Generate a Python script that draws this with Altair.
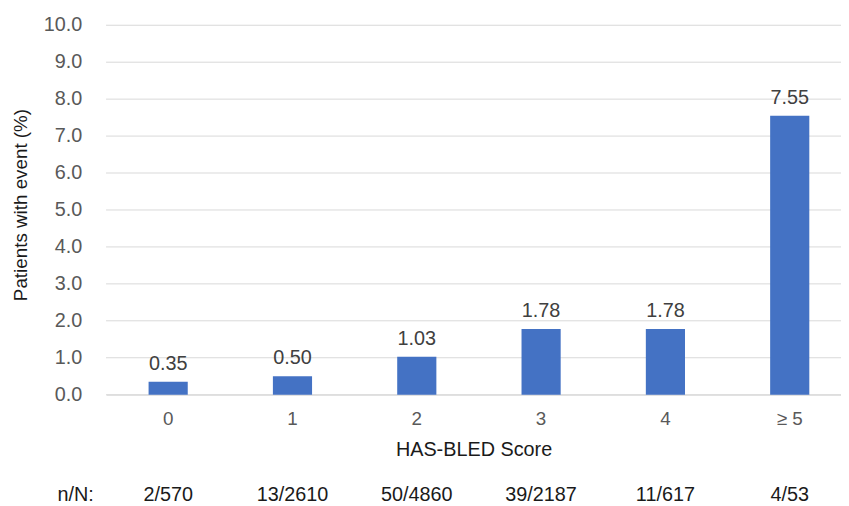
import altair as alt
import pandas as pd

categories = ["0", "1", "2", "3", "4", "≥ 5"]
values = [0.35, 0.50, 1.03, 1.78, 1.78, 7.55]
labels = ["0.35", "0.50", "1.03", "1.78", "1.78", "7.55"]
nN = ["2/570", "13/2610", "50/4860", "39/2187", "11/617", "4/53"]
y_ticks = [0, 1, 2, 3, 4, 5, 6, 7, 8, 9, 10]

df = pd.DataFrame({"cat": categories, "val": values, "lab": labels, "nN": nN})
ticks_df = pd.DataFrame({"v": y_ticks})

FONT = "Liberation Sans"
W, H = 742, 373
x_scale = alt.Scale(paddingInner=0.685, paddingOuter=0.2985, align=0.573)
y_scale = alt.Scale(domain=[0, 10], nice=False)

x_axis = alt.Axis(
    title="HAS-BLED Score",
    labelAngle=0,
    labelFont=FONT,
    labelFontSize=19,
    labelColor="#595959",
    labelPadding=15,
    ticks=False,
    domainColor="#d9d9d9",
    domainWidth=1,
    titleFont=FONT,
    titleFontSize=20,
    titleFontWeight="normal",
    titleColor="#1a1a1a",
    titleBaseline="alphabetic",
    titleY=61,
)

y_axis = alt.Axis(
    title="Patients with event (%)",
    labels=False,
    domain=False,
    ticks=False,
    grid=False,
    titleFont=FONT,
    titleFontSize=19,
    titleFontWeight="normal",
    titleColor="#1a1a1a",
    titleX=-80,
    titleY=181,
    titleAngle=-90,
    titleBaseline="alphabetic",
    titleAlign="center",
)

grid = alt.Chart(ticks_df).mark_rule(color="#d9d9d9", strokeWidth=1).encode(
    y=alt.Y("v:Q", scale=y_scale, axis=y_axis),
    x=alt.value(0),
    x2=alt.value(W),
)

ylabels = alt.Chart(ticks_df).mark_text(
    font=FONT, fontSize=20, color="#595959", align="right", baseline="middle"
).encode(
    y=alt.Y("v:Q", scale=y_scale, axis=y_axis),
    x=alt.value(-24),
    text=alt.Text("v:Q", format=".1f"),
)

bars = alt.Chart(df).mark_bar(color="#4472C4").encode(
    x=alt.X("cat:N", sort=categories, scale=x_scale, axis=x_axis),
    y=alt.Y("val:Q", scale=y_scale, axis=y_axis),
)

text = alt.Chart(df).mark_text(
    font=FONT, fontSize=20, color="#404040", baseline="alphabetic", dy=-12
).encode(
    x=alt.X("cat:N", sort=categories, scale=x_scale, axis=x_axis),
    y=alt.Y("val:Q", scale=y_scale, axis=y_axis),
    text="lab:N",
)

nn_text = alt.Chart(df).mark_text(
    font=FONT, fontSize=20, color="#1a1a1a", baseline="alphabetic"
).encode(
    x=alt.X("cat:N", sort=categories, scale=x_scale, axis=x_axis),
    y=alt.value(480),
    text="nN:N",
)

nn_label = alt.Chart(pd.DataFrame({"t": ["n/N:"]})).mark_text(
    font=FONT, fontSize=20, color="#1a1a1a", baseline="alphabetic", align="left"
).encode(x=alt.value(-49), y=alt.value(480), text="t:N")

chart = (
    alt.layer(grid, ylabels, bars, text, nn_text, nn_label)
    .properties(
        width=W,
        height=H,
        autosize=alt.AutoSizeParams(type="none"),
        padding={"left": 99, "top": 15, "right": 0, "bottom": 115},
    )
    .configure_view(stroke=None)
)

chart.save("out.html", embed_options={"renderer": "svg", "actions": False})
